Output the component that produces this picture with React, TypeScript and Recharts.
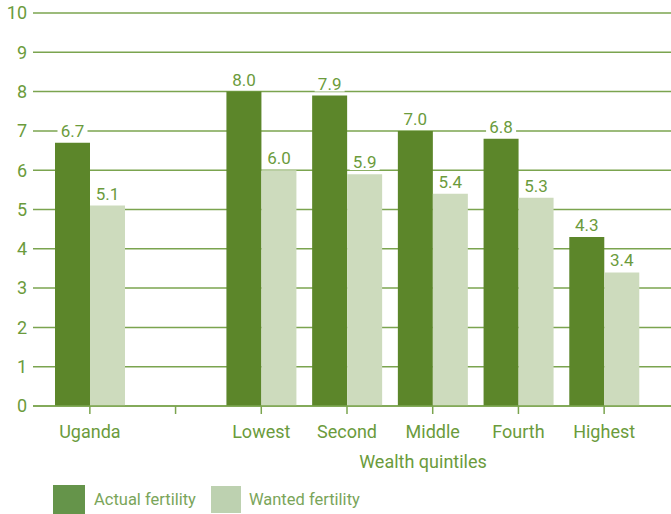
import React from 'react';
import { BarChart, Bar, XAxis, YAxis, CartesianGrid, LabelList, Label } from 'recharts';

const categories = ['Uganda', '', 'Lowest', 'Second', 'Middle', 'Fourth', 'Highest'];
const actualFertility = [6.7, null, 8.0, 7.9, 7.0, 6.8, 4.3];
const wantedFertility = [5.1, null, 6.0, 5.9, 5.4, 5.3, 3.4];
const yTicks = [0, 1, 2, 3, 4, 5, 6, 7, 8, 9, 10];

const data = categories.map((name, i) => ({
  name,
  actual: actualFertility[i],
  wanted: wantedFertility[i],
}));

const FONT = 'Roboto, "Noto Sans", sans-serif';
const TEXT = '#6b9b3c';
const GRID = '#7ba44f';
const DARK = '#5c862a';
const LIGHT = '#cddbbd';

const BarValue = (props: any) => {
  const { x, y, width, value } = props;
  if (value == null) return null;
  const cx = x + width / 2;
  return (
    <g>
      <rect x={cx - 15} y={y - 21} width={30} height={17} fill="#fff" />
      <text x={cx} y={y - 6} textAnchor="middle" fill={TEXT} fontSize={17} fontFamily={FONT}>
        {Number(value).toFixed(1)}
      </text>
    </g>
  );
};

export default function App() {
  return (
    <div style={{ position: 'absolute', left: 0, top: 0, width: 671, height: 514, background: '#fff' }}>
      <BarChart
        width={671}
        height={514}
        data={data}
        margin={{ top: 13, right: 0, left: 0, bottom: 48 }}
        barGap={0}
        barSize={35}
      >
        <CartesianGrid vertical={false} stroke={GRID} strokeWidth={1.5} />
        <YAxis
          width={33}
          domain={[0, 10]}
          ticks={yTicks}
          interval={0}
          axisLine={false}
          tickLine={false}
          tickSize={0}
          tickMargin={6}
          tick={{ fill: TEXT, fontSize: 18, fontFamily: FONT }}
        />
        <XAxis
          dataKey="name"
          height={60}
          padding={{ left: 14, right: 24 }}
          axisLine={{ stroke: GRID, strokeWidth: 1.5 }}
          tickLine={{ stroke: GRID, strokeWidth: 1.5 }}
          tickSize={8}
          tickMargin={11}
          interval={0}
          tick={{ fill: TEXT, fontSize: 18, fontFamily: FONT }}
        >
          <Label
            value="Wealth quintiles"
            position="insideBottom"
            offset={-2}
            dx={71}
            fill={TEXT}
            fontSize={18}
            fontFamily={FONT}
          />
        </XAxis>
        <Bar dataKey="actual" fill={DARK} isAnimationActive={false}>
          <LabelList dataKey="actual" content={BarValue} />
        </Bar>
        <Bar dataKey="wanted" fill={LIGHT} isAnimationActive={false}>
          <LabelList dataKey="wanted" content={BarValue} />
        </Bar>
      </BarChart>
      <div
        style={{
          position: 'absolute',
          left: 53,
          top: 485,
          display: 'flex',
          alignItems: 'center',
          fontFamily: FONT,
          fontSize: 16.5,
          color: '#7aa55a',
        }}
      >
        <div style={{ width: 32, height: 29, background: '#65944a' }} />
        <span style={{ marginLeft: 9 }}>Actual fertility</span>
        <div style={{ width: 30, height: 27, background: '#bdd1b0', marginLeft: 15 }} />
        <span style={{ marginLeft: 8 }}>Wanted fertility</span>
      </div>
    </div>
  );
}
